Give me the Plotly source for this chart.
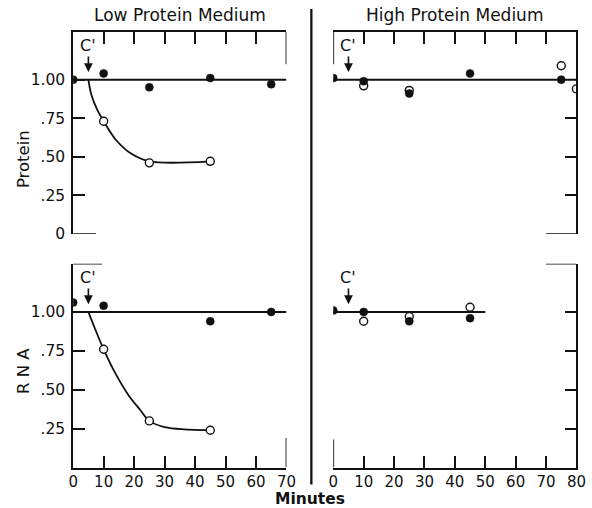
import plotly.graph_objects as go

# ---------------- data ----------------
minutes_left_ticks = [0, 10, 20, 30, 40, 50, 60, 70]
minutes_right_ticks = [0, 10, 20, 30, 40, 50, 60, 70, 80]
y_tickvals = [0, 0.25, 0.50, 0.75, 1.00]
y_ticktext = ["0", ".25", ".50", ".75", "1.00"]

# Low protein medium - Protein
lp_prot_fill_x = [0, 10, 25, 45, 65]
lp_prot_fill_y = [1.00, 1.04, 0.95, 1.01, 0.97]
lp_prot_open_x = [10, 25, 45]
lp_prot_open_y = [0.73, 0.46, 0.47]
lp_prot_curve_x = [5, 6, 8, 10, 14, 19, 25, 45]
lp_prot_curve_y = [1.00, 0.90, 0.80, 0.73, 0.61, 0.52, 0.47, 0.47]
lp_prot_ref_x = [0, 70]

# High protein medium - Protein
hp_prot_fill_x = [0, 10, 25, 45, 75]
hp_prot_fill_y = [1.01, 0.99, 0.91, 1.04, 1.00]
hp_prot_open_x = [10, 25, 75, 80]
hp_prot_open_y = [0.96, 0.93, 1.09, 0.94]
hp_prot_ref_x = [0, 80]

# Low protein medium - RNA
lp_rna_fill_x = [0, 10, 45, 65]
lp_rna_fill_y = [1.06, 1.04, 0.94, 1.00]
lp_rna_open_x = [10, 25, 45]
lp_rna_open_y = [0.76, 0.30, 0.24]
lp_rna_curve_x = [5, 7, 10, 14, 18, 22, 25, 30, 45]
lp_rna_curve_y = [1.00, 0.90, 0.76, 0.60, 0.47, 0.37, 0.30, 0.26, 0.24]
lp_rna_ref_x = [0, 70]

# High protein medium - RNA
hp_rna_fill_x = [0, 10, 25, 45]
hp_rna_fill_y = [1.01, 1.00, 0.94, 0.96]
hp_rna_open_x = [10, 25, 45]
hp_rna_open_y = [0.94, 0.97, 1.03]
hp_rna_ref_x = [0, 50]

ref_level = 1.00
c_prime_time = 5

# ---------------- figure ----------------
W, H = 592, 508
FONT = "DejaVu Sans"
BLACK = "#111111"

# map target picture pixels to paper fractions (compensates the page photo scaling)
SX, OX = 0.978, 3.6
SY, OY = 0.983, 1.1

def px(x):
    return ((x - OX) / SX) / W

def py(y):
    return 1 - ((y - OY) / SY) / H

fig = go.Figure()

def add_panel(xa, ya, fill_x, fill_y, open_x, open_y, ref_x, curve_x=None, curve_y=None):
    fig.add_trace(go.Scatter(x=ref_x, y=[ref_level] * len(ref_x), mode="lines",
                             line=dict(color=BLACK, width=2), xaxis=xa, yaxis=ya,
                             hoverinfo="skip"))
    if curve_x is not None:
        fig.add_trace(go.Scatter(x=curve_x, y=curve_y, mode="lines",
                                 line=dict(color=BLACK, width=1.8, shape="spline", smoothing=1.0),
                                 xaxis=xa, yaxis=ya, hoverinfo="skip"))
    fig.add_trace(go.Scatter(x=open_x, y=open_y, mode="markers",
                             marker=dict(symbol="circle", size=8, color="white",
                                         line=dict(color=BLACK, width=1.4)),
                             xaxis=xa, yaxis=ya))
    fig.add_trace(go.Scatter(x=fill_x, y=fill_y, mode="markers",
                             marker=dict(symbol="circle", size=8, color=BLACK,
                                         line=dict(color=BLACK, width=0.5)),
                             xaxis=xa, yaxis=ya))

add_panel("x", "y", lp_prot_fill_x, lp_prot_fill_y, lp_prot_open_x, lp_prot_open_y,
          lp_prot_ref_x, lp_prot_curve_x, lp_prot_curve_y)
add_panel("x2", "y2", hp_prot_fill_x, hp_prot_fill_y, hp_prot_open_x, hp_prot_open_y,
          hp_prot_ref_x)
add_panel("x3", "y3", lp_rna_fill_x, lp_rna_fill_y, lp_rna_open_x, lp_rna_open_y,
          lp_rna_ref_x, lp_rna_curve_x, lp_rna_curve_y)
add_panel("x4", "y4", hp_rna_fill_x, hp_rna_fill_y, hp_rna_open_x, hp_rna_open_y,
          hp_rna_ref_x)

XL = [px(72), px(286)]
XR = [px(333), px(577)]
YT = [py(235), py(33)]
YB = [py(469), py(265)]
YR = [0, 1.31]

tickfont = dict(family=FONT, size=15.5, color=BLACK)
xtickfont = dict(family=FONT, size=15, color=BLACK)
common_axis = dict(showgrid=False, zeroline=False, showline=True, linecolor=BLACK,
                   linewidth=1.7, ticks="inside", tickcolor=BLACK, tickwidth=1.7,
                   ticklen=12, tickfont=tickfont, fixedrange=True)

fig.update_layout(
    width=W, height=H,
    margin=dict(l=0, r=0, t=0, b=0),
    paper_bgcolor="white", plot_bgcolor="white",
    showlegend=False,
    xaxis=dict(common_axis, domain=XL, anchor="y", side="top", range=[0, 70],
               tickvals=minutes_left_ticks[1:-1], showticklabels=False),
    yaxis=dict(common_axis, domain=YT, anchor="x", range=YR,
               tickvals=y_tickvals, ticktext=y_ticktext, ticklabelstandoff=3),
    xaxis2=dict(common_axis, domain=XR, anchor="y2", side="top", range=[0, 80],
                tickvals=minutes_right_ticks[1:-1], showticklabels=False),
    yaxis2=dict(common_axis, domain=YT, anchor="x2", side="right", range=YR,
                tickvals=y_tickvals[1:4], showticklabels=False),
    xaxis3=dict(common_axis, domain=XL, anchor="y3", range=[0, 70], tickfont=xtickfont,
                tickvals=minutes_left_ticks, ticktext=[str(v) for v in minutes_left_ticks]),
    yaxis3=dict(common_axis, domain=YB, anchor="x3", range=YR,
                tickvals=y_tickvals[1:], ticktext=y_ticktext[1:], ticklabelstandoff=3),
    xaxis4=dict(common_axis, domain=XR, anchor="y4", range=[0, 80], tickfont=xtickfont,
                tickvals=minutes_right_ticks, ticktext=[str(v) for v in minutes_right_ticks]),
    yaxis4=dict(common_axis, domain=YB, anchor="x4", side="right", range=YR,
                tickvals=y_tickvals[1:], showticklabels=False),
)

line_style = dict(color=BLACK, width=1.7)
shapes = [
    # top-left: right stub and zero tick
    dict(type="line", xref="x", yref="y", x0=70, x1=70, y0=1.31, y1=1.10, line=line_style),
    dict(type="line", xref="x", yref="y", x0=0, x1=7.5, y0=0, y1=0, line=line_style),
    # top-right: left stub and zero tick
    dict(type="line", xref="x2", yref="y2", x0=0, x1=0, y0=1.31, y1=1.10, line=line_style),
    dict(type="line", xref="x2", yref="y2", x0=70, x1=80, y0=0, y1=0, line=line_style),
    # bottom-left: top stub and right stub
    dict(type="line", xref="x3", yref="y3", x0=0, x1=9.5, y0=1.31, y1=1.31, line=line_style),
    dict(type="line", xref="x3", yref="y3", x0=70, x1=70, y0=0, y1=0.19, line=line_style),
    # bottom-right: left stub and top stub
    dict(type="line", xref="x4", yref="y4", x0=0, x1=0, y0=0, y1=0.18, line=line_style),
    dict(type="line", xref="x4", yref="y4", x0=70, x1=80, y0=1.31, y1=1.31, line=line_style),
    # central divider
    dict(type="line", xref="paper", yref="paper", x0=px(311), x1=px(311),
         y0=py(10), y1=py(486), line=dict(color=BLACK, width=2.3)),
]
fig.update_layout(shapes=shapes)

annotations = []
for xa, ya in [("x", "y"), ("x2", "y2"), ("x3", "y3"), ("x4", "y4")]:
    annotations.append(dict(
        x=c_prime_time, y=1.05, xref=xa, yref=ya,
        ax=c_prime_time, ay=1.16, axref=xa, ayref=ya,
        text="", showarrow=True, arrowhead=2, arrowsize=1.1, arrowwidth=1.6,
        arrowcolor=BLACK))
    annotations.append(dict(
        x=c_prime_time, y=1.22, xref=xa, yref=ya, text="C'", showarrow=False,
        xanchor="center", yanchor="middle",
        font=dict(family=FONT, size=16, color=BLACK)))

label_font = dict(family=FONT, size=16.5, color=BLACK)
annotations += [
    dict(x=px(179), y=py(16), text="Low Protein Medium", font=dict(label_font, size=17)),
    dict(x=px(455), y=py(16), text="High Protein Medium", font=dict(label_font, size=17)),
    dict(x=px(22), y=py(160), text="Protein", textangle=-90, font=label_font),
    dict(x=px(22), y=py(372), text="R N A", textangle=-90, font=label_font),
    dict(x=px(310), y=py(500), text="<b>Minutes</b>", font=dict(label_font, size=15.5),
         borderpad=0),
]
for a in annotations[-5:]:
    a.update(xref="paper", yref="paper", showarrow=False, xanchor="center", yanchor="middle")
fig.update_layout(annotations=annotations)

fig.write_html("out.html",
               config={"displayModeBar": False},
               post_script="document.body.style.margin='0px';document.body.style.overflow='hidden';")
